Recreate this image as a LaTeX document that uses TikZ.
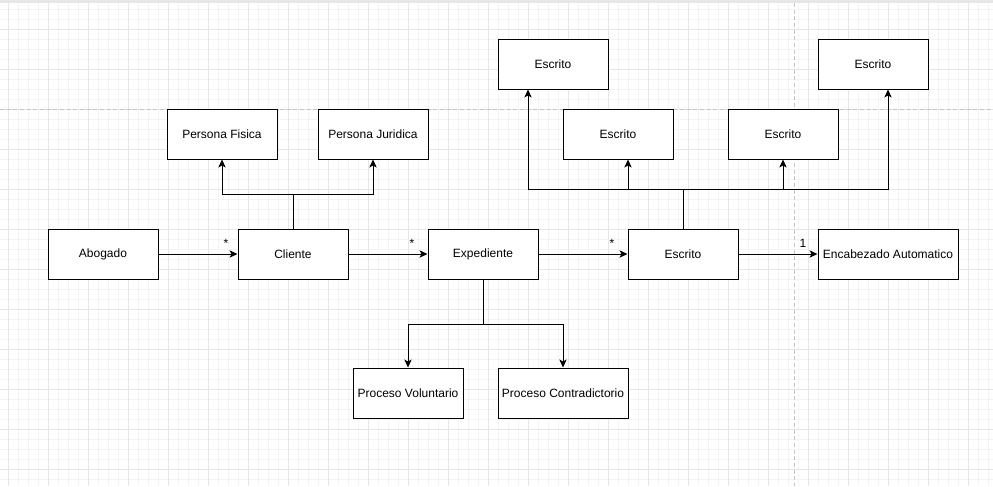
\documentclass[tikz,border=0pt]{standalone}
\usepackage{fontspec}
\setmainfont{Liberation Sans}
\usetikzlibrary{arrows.meta}
\definecolor{minorgrid}{HTML}{F4F4F4}
\definecolor{majorgrid}{HTML}{E6E6E6}
\definecolor{pagebreak}{HTML}{C4C4C4}
\begin{document}
\begin{tikzpicture}[x=0.75pt,y=-0.75pt]

      \tikzset{box/.style={draw, line width=0.75pt, fill=white, minimum width=82.5pt, minimum height=37.5pt, inner sep=0pt, font=\fontsize{9}{11}\selectfont},
               link/.style={line width=0.75pt, -{Stealth[length=6pt,width=5.5pt,inset=1.5pt]}},
               joint/.style={line width=0.75pt},
               mult/.style={inner sep=0pt, font=\fontsize{9}{11}\selectfont}}
      \useasboundingbox (0,0) rectangle (993,486);
% Background
	%Grid
	\fill[white] (0,0) rectangle (993,486);
	\foreach \x in {8,18,...,988} \draw[minorgrid, line width=0.75pt] (\x,3) -- (\x,486);
	\foreach \y in {9,19,...,479} \draw[minorgrid, line width=0.75pt] (0,\y) -- (993,\y);
	\foreach \x in {8,48,...,968} \draw[majorgrid, line width=0.75pt] (\x,3) -- (\x,486);
	\foreach \y in {29,69,...,469} \draw[majorgrid, line width=0.75pt] (0,\y) -- (993,\y);
	\fill[majorgrid] (0,0) rectangle (993,3);
	%Sideskift
	\draw[pagebreak, line width=0.75pt, dash pattern=on 3pt off 2pt] (0,109) -- (993,109);
	\draw[pagebreak, line width=0.75pt, dash pattern=on 3pt off 2pt] (794,3) -- (794,486);
% Nodes
	%Hovedraekke
      	\node[box] (abogado) at (103,254) {Abogado};
      	\node[box] (cliente) at (293,254) {Cliente};
      	\node[box] (expediente) at (483,254) {Expediente};
      	\node[box] (escrito) at (683,254) {Escrito};
      	\node[box, minimum width=105pt] (encabezado) at (888,254) {Encabezado Automatico};
	%Personer
      	\node[box] (fisica) at (222,134) {Persona Fisica};
      	\node[box] (juridica) at (373,134) {Persona Juridica};
	%Escritos
      	\node[box] (escritoa) at (553,64) {Escrito};
      	\node[box] (escritob) at (618,134) {Escrito};
      	\node[box] (escritoc) at (783,134) {Escrito};
      	\node[box] (escritod) at (873,64) {Escrito};
	%Procesos
      	\node[box] (voluntario) at (408,393) {Proceso Voluntario};
      	\node[box, minimum width=97.5pt] (contradictorio) at (563,393) {Proceso Contradictorio};
	%Knudepunkter
      	\coordinate (jcliente) at (293,194);
      	\coordinate (jescrito) at (683,189);
      	\coordinate (jexpediente) at (483,324);
% Edges
	%Hovedraekke
		\draw[link] (abogado) -- (cliente);
		\draw[link] (cliente) -- (expediente);
		\draw[link] (expediente) -- (escrito);
		\draw[link] (escrito) -- (encabezado);
		\node[mult] (m1) at (226,243) {*};
		\node[mult] (m2) at (412,243) {*};
		\node[mult] (m3) at (612,243) {*};
		\node[mult] (m4) at (803,243) {1};
	%Personer
		\draw[joint] (cliente) -- (jcliente);
		\draw[link] (jcliente) -| (fisica);
		\draw[link] (jcliente) -| (juridica);
	%Escritos
		\draw[joint] (escrito) -- (jescrito);
		\draw[link] (jescrito) -| ([xshift=-18.75pt]escritoa.south);
		\draw[link] (jescrito) -| ([xshift=7.5pt]escritob.south);
		\draw[link] (jescrito) -| (escritoc);
		\draw[link] (jescrito) -| ([xshift=11.25pt]escritod.south);
	%Procesos
		\draw[joint] (expediente) -- (jexpediente);
		\draw[link] (jexpediente) -| (voluntario);
		\draw[link] (jexpediente) -| (contradictorio);

	\end{tikzpicture}
\end{document}
